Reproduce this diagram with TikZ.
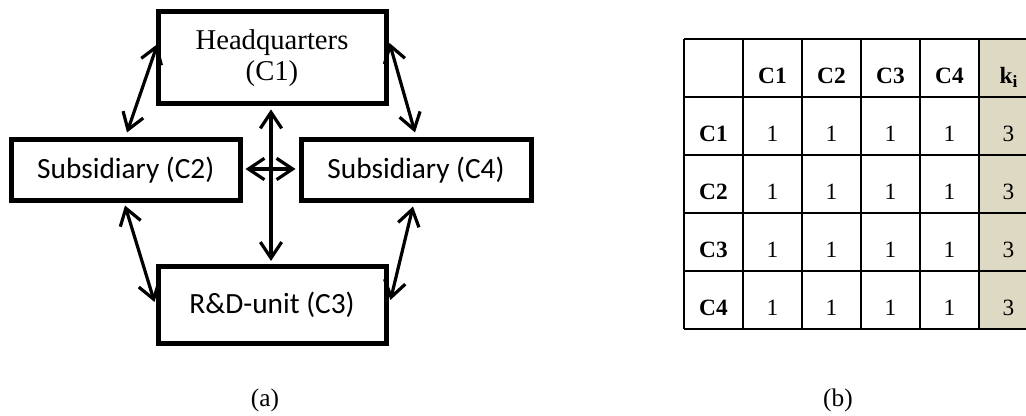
\documentclass[tikz,border=0pt]{standalone}
\usepackage{fontspec}
\setmainfont{Liberation Serif}
\newfontfamily\calibri{Carlito}
\usetikzlibrary{arrows.meta}
\usetikzlibrary{positioning}
\definecolor{kfill}{RGB}{221,217,195}
\tikzset{
  unit/.style={draw,line width=3.75pt,inner sep=0pt,align=center},
  link/.style={{Straight Barb[length=12pt,width=16pt]}-{Straight Barb[length=12pt,width=16pt]},line width=2.4pt},
  grid/.style={line width=1.6pt},
  cell/.style={anchor=base,inner sep=0pt,font=\fontsize{17.5}{20}\selectfont},
}

\begin{document}
\begin{tikzpicture}[x=0.75pt,y=0.75pt]
\useasboundingbox (0,0) rectangle (1026,416);

%Shape: Rectangle [hq]
\node[unit,minimum width=171pt,minimum height=69pt,font=\fontsize{21.5}{23.5}\selectfont] (hq) at (272,358) {Headquarters\\(C1)};
%Shape: Rectangle [sub2]
\node[unit,minimum width=171.4pt,minimum height=45.4pt,font=\calibri\fontsize{22}{24}\selectfont] (sub2) at (125.75,246.25) {Subsidiary (C2)};
%Shape: Rectangle [sub4]
\node[unit,minimum width=172.5pt,minimum height=45.4pt,font=\calibri\fontsize{22}{24}\selectfont] (sub4) at (416,246.25) {Subsidiary (C4)};
%Shape: Rectangle [rd]
\node[unit,minimum width=171pt,minimum height=57.4pt,font=\calibri\fontsize{22}{24}\selectfont] (rd) at (272,111.25) {R\&D-unit (C3)};

%Straight Lines
\draw[link] ([shift={(2,14)}]hq.west) -- ([shift={(1.25,4.5)}]sub2.north);
\draw[link] ([shift={(1,15)}]hq.east) -- ([shift={(-1,4.5)}]sub4.north);
\draw[link] ([shift={(-0.75,-3)}]sub2.south) -- ([shift={(-1,2.75)}]rd.west);
\draw[link] ([shift={(-3,-4)}]sub4.south) -- ([shift={(2,4.75)}]rd.east);
\draw[link] ([shift={(-1,-3)}]hq.south) -- ([shift={(-1,3)}]rd.north);
\draw[link] ([shift={(3,0.75)}]sub2.east) -- ([shift={(-3,0.75)}]sub4.west);

%Table
\fill[kfill] (979,377) rectangle (1038,87);
\foreach \i in {0,...,6}
  \draw[grid] (684+59*\i,377) -- (684+59*\i,87);
\foreach \j in {0,...,5}
  \draw[grid] (684,377-58*\j) -- (1038,377-58*\j);

% Text Node
\foreach \c [count=\i] in {C1,C2,C3,C4} {
  \node[cell] (col\i) at (713.5+59*\i,332.5) {\textbf{\c}};
  \node[cell] (row\i) at (713.5,332.5-58*\i) {\textbf{\c}};
  \foreach \k in {1,...,4}
    \node[cell] (v\i\k) at (713.5+59*\k,332.5-58*\i) {1};
  \node[cell] (k\i) at (1008.5,332.5-58*\i) {3};
}
\node[cell] (khead) at (1008.5,332.5) {\textbf{k\raisebox{-0.4ex}{\fontsize{13}{13}\selectfont i}}};

% Text Node
\node[font=\fontsize{19}{22}\selectfont] (capa) at (265,16) {(a)};
\node[font=\fontsize{19}{22}\selectfont] (capb) at (838,16) {(b)};

\end{tikzpicture}
\end{document}
